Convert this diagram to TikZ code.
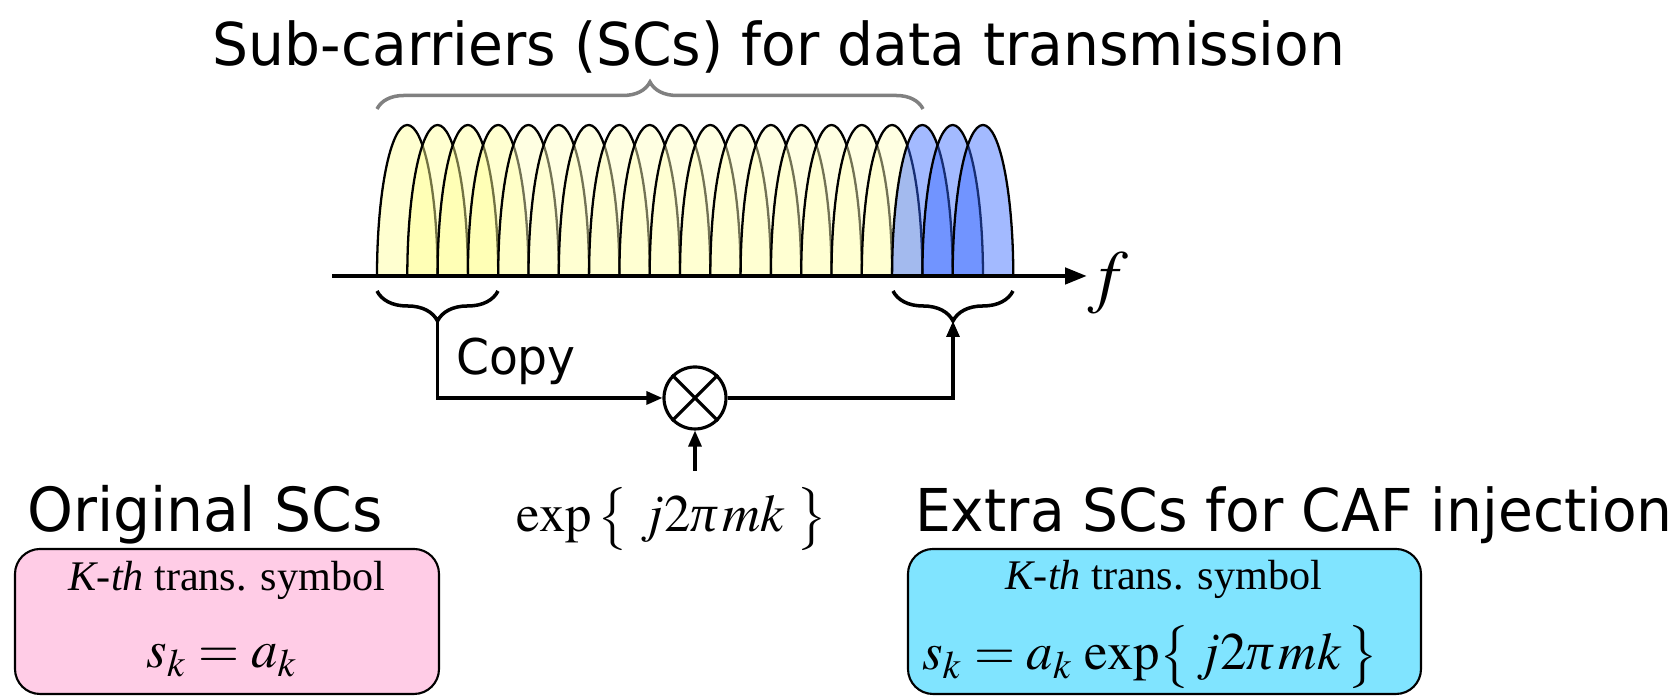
\documentclass[tikz,border=0pt]{standalone}
\usepackage{mathptmx}
\usepackage[no-math]{fontspec}
\setmainfont{Liberation Serif}
\newfontfamily\tahoma{DejaVu Sans}[FakeStretch=0.96]
\newcommand\itpi{\mbox{\itshape π}}
\usetikzlibrary{arrows.meta,decorations.pathreplacing}

\definecolor{scdeep}{RGB}{255,255,150}
\definecolor{scpale}{RGB}{255,255,190}
\definecolor{scblue}{RGB}{51,102,255}
\definecolor{scpink}{RGB}{255,204,230}
\definecolor{sccyan}{RGB}{128,228,255}

\tikzset{
    lobe/.style={draw=black, line width=0.65pt, fill opacity=0.45},
    conn/.style={line width=0.9pt, -{Triangle[length=1.6mm,width=1.3mm]}},
    bigtext/.style={font=\tahoma\fontsize{16.8}{20}\selectfont, inner sep=0pt},
    symtext/.style={font=\fontsize{12}{14}\selectfont, inner sep=0pt},
    eqtext/.style={font=\fontsize{15}{18}\selectfont, inner sep=0pt},
    infobox/.style={draw=black, line width=0.6pt, rounded corners=0.25cm}
}

\begin{document}
\begin{tikzpicture}
    \useasboundingbox (0,0) rectangle (16.79,6.97);

    % sub-carrier lobes
    \foreach \i in {0,...,3}
        \filldraw[lobe, fill=scdeep] (3.77+0.303*\i,4.21) arc[start angle=180, end angle=0, x radius=0.303, y radius=1.51];
    \foreach \i in {4,...,16}
        \filldraw[lobe, fill=scpale] (3.77+0.303*\i,4.21) arc[start angle=180, end angle=0, x radius=0.303, y radius=1.51];
    \foreach \i in {17,...,19}
        \filldraw[lobe, fill=scblue] (3.77+0.303*\i,4.21) arc[start angle=180, end angle=0, x radius=0.303, y radius=1.51];

    % frequency axis
    \draw node (faxis) at (11.08,3.97) [anchor=base, inner sep=0pt, font=\fontsize{20}{24}\selectfont] {$f$};
    \draw[line width=1.3pt, -{Triangle[length=2.2mm,width=1.6mm]}] (3.32,4.21) -- (10.87,4.21);

    % braces
    \draw[decorate, decoration={brace, amplitude=0.27cm}, line width=1pt, draw=gray] (3.77,5.88) -- (9.23,5.88);
    \draw[decorate, decoration={brace, amplitude=0.30cm, mirror}, line width=1pt] (3.77,4.06) -- (4.98,4.06);
    \draw[decorate, decoration={brace, amplitude=0.30cm, mirror}, line width=1pt] (8.93,4.06) -- (10.13,4.06);
    \coordinate (cpyL) at (4.375,3.76);
    \coordinate (cpyR) at (9.53,3.76);

    \draw node (title) at (7.79,6.31) [bigtext, anchor=base] {Sub-carriers (SCs) for data transmission};
    \draw node (copy) at (5.16,3.22) [bigtext, anchor=base, font=\tahoma\fontsize{14}{16}\selectfont] {Copy};

    % multiplier
    \draw node (mult) at (6.95,2.99) [circle, draw, line width=0.9pt, minimum size=0.62cm, inner sep=0pt] {};
    \draw[line width=0.9pt] (mult.north west) -- (mult.south east);
    \draw[line width=0.9pt] (mult.north east) -- (mult.south west);
    \draw node (expo) at (6.72,1.65) [eqtext, anchor=base] {$\exp\,\bigl\{\;j2\itpi\,mk\;\bigr\}$};
    \coordinate (ein) at (6.95,2.26);

    \draw[conn] (cpyL) |- (mult);
    \draw[conn] (mult) -| (cpyR);
    \draw[conn] (ein) -- (mult);

    % symbol boxes
    \draw node (orglab) at (2.05,1.65) [bigtext, anchor=base, font=\tahoma\fontsize{17.3}{20}\selectfont] {Original SCs};
    \draw node (orgbox) at (2.27,0.755) [infobox, fill=scpink, minimum width=4.24cm, minimum height=1.45cm] {};
    \draw node (orgsym) at (2.27,1.06) [symtext, anchor=base] {\textit{K-th} trans. symbol};
    \draw node (orgeq) at (2.22,0.29) [eqtext, anchor=base] {$s_k = a_k$};

    \draw node (extlab) at (12.94,1.65) [bigtext, anchor=base] {Extra SCs for CAF injection};
    \draw node (extbox) at (11.645,0.755) [infobox, fill=sccyan, minimum width=5.13cm, minimum height=1.45cm] {};
    \draw node (extsym) at (11.64,1.07) [symtext, anchor=base] {\textit{K-th} trans. symbol};
    \draw node (exteq) at (11.50,0.27) [eqtext, anchor=base] {$s_k = a_k \, \exp\bigl\{\,j2\itpi\,mk\,\bigr\}$};
\end{tikzpicture}
\end{document}
